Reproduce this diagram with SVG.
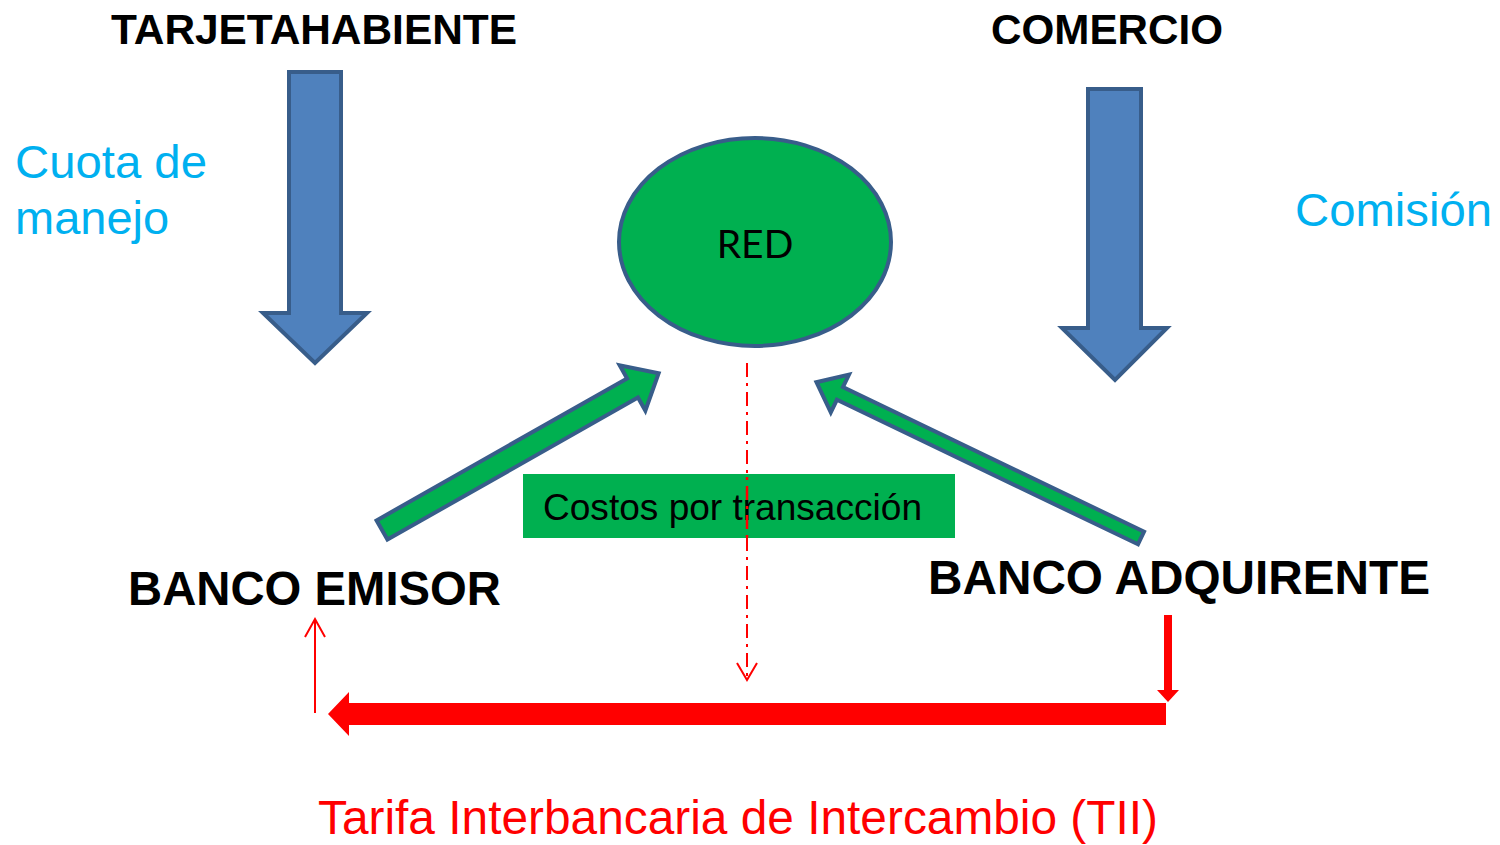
<svg xmlns="http://www.w3.org/2000/svg" width="1500" height="845" viewBox="0 0 1500 845">
<style>
.bold{font-family:"Liberation Sans",Arial,sans-serif;font-weight:bold;fill:#000}
.cyan{font-family:"Liberation Sans",Arial,sans-serif;fill:#00b0f0;font-size:47px}
.blue{fill:#4f81bd;stroke:#385d8a;stroke-width:4;stroke-linejoin:miter}
.green{fill:#00b050;stroke:#385d8a;stroke-width:4;stroke-linejoin:miter}
.red{fill:#ff0000}
.redline{fill:none;stroke:#ff0000;stroke-width:2}
</style>
<rect width="1500" height="845" fill="#ffffff"/>
<g id="tarjetahabiente"><text class="bold" x="111" y="44" font-size="42.5" textLength="406" lengthAdjust="spacingAndGlyphs">TARJETAHABIENTE</text></g>
<g id="comercio"><text class="bold" x="991" y="44" font-size="42" textLength="232" lengthAdjust="spacingAndGlyphs">COMERCIO</text></g>
<g id="cuota"><text class="cyan" x="15" y="178" textLength="192" lengthAdjust="spacingAndGlyphs">Cuota de</text><text class="cyan" x="15" y="234">manejo</text></g>
<g id="comision"><text class="cyan" x="1295" y="226" textLength="197" lengthAdjust="spacingAndGlyphs">Comisión</text></g>
<g id="red-node">
<ellipse cx="755" cy="242" rx="136" ry="104" class="green"/>
<text x="755" y="258" font-family="Lato,'Open Sans',sans-serif" font-size="39" text-anchor="middle" fill="#000">RED</text>
</g>
<g id="banco-emisor"><text class="bold" x="128" y="605" font-size="47.5" textLength="373" lengthAdjust="spacingAndGlyphs">BANCO EMISOR</text></g>
<g id="banco-adquirente"><text class="bold" x="928" y="594" font-size="48" textLength="502" lengthAdjust="spacingAndGlyphs">BANCO ADQUIRENTE</text></g>
<g id="connectors">
<polygon class="blue" points="289,72 341,72 341,313 367,313 315,363 263,313 289,313"/>
<polygon class="blue" points="1088,89 1141,89 1141,328 1167,328 1115,380 1062,328 1088,328"/>
<g transform="translate(382,530) rotate(-29.55)"><polygon class="green" points="0,-11 288,-11 288,-26 318,0 288,26 288,11 0,11"/></g>
<g transform="translate(1141,538) rotate(-154.36)"><polygon class="green" points="0,-7 334,-7 334,-21 360,0 334,21 334,7 0,7"/></g>
<line class="redline" x1="747" y1="363" x2="747" y2="678" stroke-dasharray="14 6 3 6" stroke-width="2.5"/>
<polyline class="redline" points="737,663 747,680 757,663"/>
<polygon class="red" points="1166,703 349,703 349,692 328,714 349,736 349,725 1166,725"/>
<rect class="red" x="1164" y="615" width="8" height="76"/>
<polygon class="red" points="1157,690 1179,690 1168,702"/>
<line class="redline" x1="315" y1="713" x2="315" y2="620"/>
<polyline class="redline" points="305,637 315,619 325,637"/>
</g>
<g id="costos">
<rect x="523" y="474" width="432" height="64" fill="#00b050"/>
<text x="543" y="520" font-family="'Liberation Sans',Arial,sans-serif" font-size="37" fill="#000" textLength="379" lengthAdjust="spacingAndGlyphs">Costos por transacción</text>
</g>
<line x1="747" y1="474" x2="747" y2="538" stroke="#ff0000" stroke-width="2.5" stroke-dasharray="14 6 3 6" stroke-dashoffset="-12"/>
<g id="tii"><text x="318" y="834" font-family="'Liberation Sans',Arial,sans-serif" font-size="48" fill="#ff0000" textLength="840" lengthAdjust="spacingAndGlyphs">Tarifa Interbancaria de Intercambio (TII)</text></g>
</svg>
